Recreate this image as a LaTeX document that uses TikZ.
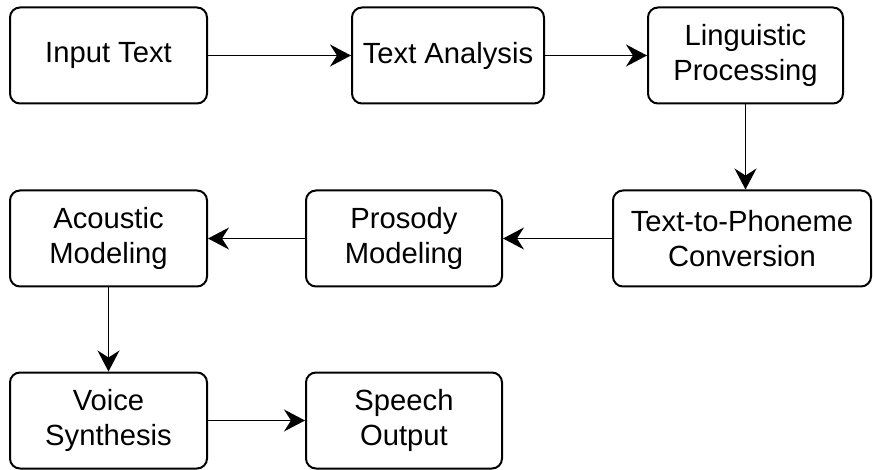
\documentclass[tikz,border=0pt]{standalone}
\usepackage{fontspec}
\setmainfont{Liberation Sans}
\usepackage{tikz}
\usetikzlibrary{arrows.meta}

\begin{document}
\begin{tikzpicture}[x=0.5pt, y=-0.5pt, every node/.append style={font=\fontsize{14.6}{17.5}\selectfont}]
    \tikzstyle{blk}=[draw,shape=rectangle,rounded corners=5pt,line width=1pt,align=center,minimum height=48pt,inner sep=0pt];
    \tikzstyle{arr}=[line width=0.8pt,-{Stealth[length=10.5pt,width=11pt,inset=3.5pt]}];
    \useasboundingbox (0,0) rectangle (873,470);
    %first row
    \node[blk,minimum width=98.5pt] (1) at (108.5,55.5) {Input Text};
    \node[blk,minimum width=96pt] (2) at (448,55.5) {Text Analysis};
    \node[blk,minimum width=97.5pt] (3) at (745.5,55.5) {Linguistic\\Processing};
    %second row
    \node[blk,minimum width=129pt] (4) at (742,238.5) {Text-to-Phoneme\\Conversion};
    \node[blk,minimum width=98pt] (5) at (404,238.5) {Prosody\\Modeling};
    \node[blk,minimum width=98.5pt] (6) at (108.5,238.5) {Acoustic\\Modeling};
    %third row
    \node[blk,minimum width=98.5pt] (7) at (108.5,420.5) {Voice\\Synthesis};
    \node[blk,minimum width=98pt] (8) at (404,420.5) {Speech\\Output};
    %arrows
    \draw[arr] (1) -- (2);
    \draw[arr] (2) -- (3);
    \draw[arr] (3.south) -- (3.south |- 4.north);
    \draw[arr] (4) -- (5);
    \draw[arr] (5) -- (6);
    \draw[arr] (6) -- (7);
    \draw[arr] (7) -- (8);
\end{tikzpicture}
\end{document}
